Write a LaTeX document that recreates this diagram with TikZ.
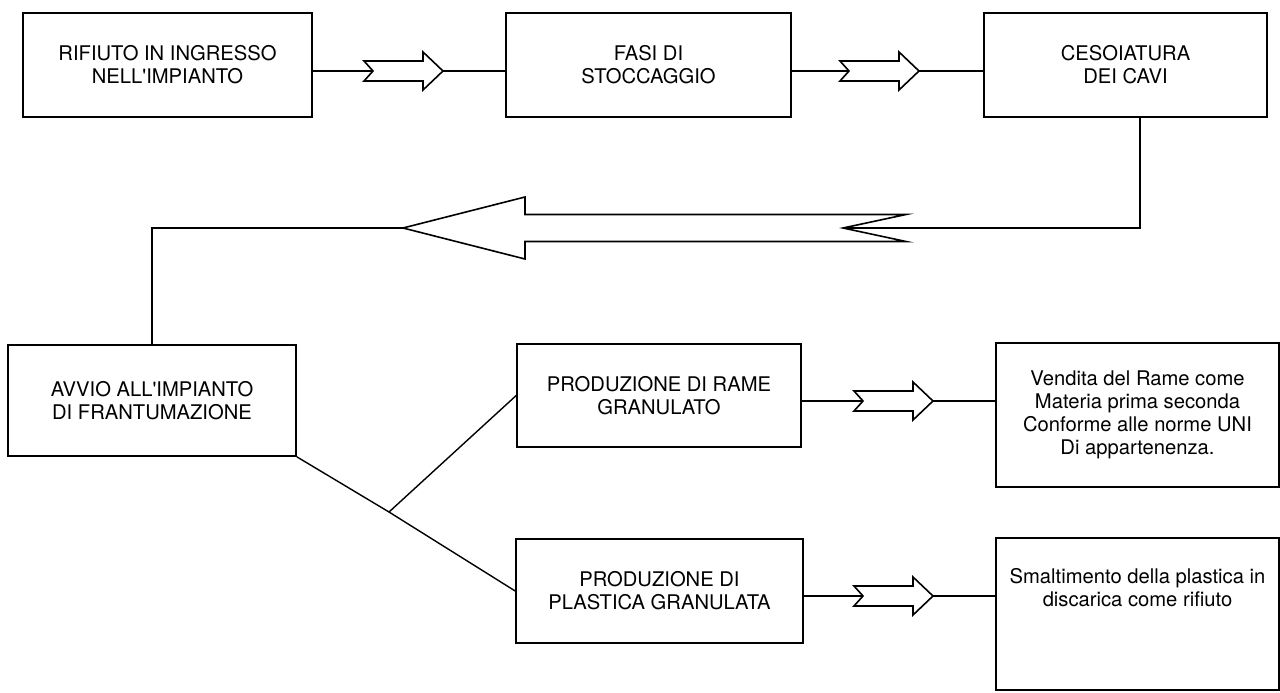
\documentclass[tikz,border=0pt]{standalone}
\usepackage{fontspec}
\setmainfont{TeX Gyre Heros}
\begin{document}
\begin{tikzpicture}[x=1pt,y=-1pt,
  box/.style={draw,line width=1.6pt,inner sep=0pt,align=center,font=\fontsize{20.2}{23}\selectfont},
  txt/.style={inner sep=0pt,align=center,font=\fontsize{20.2}{23}\selectfont},
  conn/.style={line width=1.4pt},
  fat/.style={draw,line width=1.6pt,fill=white,line join=miter},
  fatarrow/.pic={\draw[fat] (0,0) -- (-9,-10) -- (50,-10) -- (50,-19) -- (70,0) -- (50,19) -- (50,10) -- (-9,10) -- cycle;}]
\useasboundingbox (0,0) rectangle (1280,693);
% boxes
\node[box,minimum width=289pt,minimum height=104pt] (b1) at (167.5,65) {RIFIUTO IN INGRESSO\\NELL\textquotesingle IMPIANTO};
\node[box,minimum width=285pt,minimum height=104pt] (b2) at (648.5,65) {FASI DI\\STOCCAGGIO};
\node[box,minimum width=283pt,minimum height=104pt] (b3) at (1125.5,65) {CESOIATURA\\DEI CAVI};
\node[box,minimum width=288pt,minimum height=111pt] (b4) at (152,400.5) {AVVIO ALL\textquotesingle IMPIANTO\\DI FRANTUMAZIONE};
\node[box,minimum width=284pt,minimum height=103pt] (b5) at (659,395.5) {PRODUZIONE DI RAME\\GRANULATO};
\node[box,minimum width=287pt,minimum height=104pt] (b6) at (659.5,591) {PRODUZIONE DI\\PLASTICA GRANULATA};
\node[box,minimum width=283pt,minimum height=144pt] (b7) at (1137.5,415) {Vendita del Rame come\\Materia prima seconda\\Conforme alle norme UNI\\Di appartenenza.};
\node[box,minimum width=283pt,minimum height=152pt] (b8) at (1137.5,614) {};
\node[txt] (b8t) at (1137.5,588) {Smaltimento della plastica in\\discarica come rifiuto};
% top row arrows
\coordinate (a1) at (373,71);
\draw[conn] (b1.east |- a1) -- (a1);
\pic at (a1) {fatarrow};
\draw[conn] ([xshift=70pt]a1) -- (b2.west |- a1);
\coordinate (a2) at (849,71);
\draw[conn] (b2.east |- a2) -- (a2);
\pic at (a2) {fatarrow};
\draw[conn] ([xshift=70pt]a2) -- (b3.west |- a2);
% big return arrow
\coordinate (c3) at (1140,228);
\coordinate (bn) at (843,228);
\coordinate (bt) at (403,228);
\draw[conn] (b3.south -| c3) -- (c3) -- (bn);
\draw[fat,shift={(bn)}] (0,0) -- (63,-13.5) -- (-318,-13.5) -- (-318,-31) -- (-440,0) -- (-318,31) -- (-318,13.5) -- (63,13.5) -- cycle;
\draw[conn] (bt) -- (b4.north |- bt) -- (b4.north);
% branches
\coordinate (J) at (389,512);
\draw[conn] (b4.south east) -- (J) -- (b6.west);
\draw[conn] (J) -- (b5.west);
% lower arrows
\coordinate (a3) at (863,401);
\draw[conn] (b5.east |- a3) -- (a3);
\pic at (a3) {fatarrow};
\draw[conn] ([xshift=70pt]a3) -- (b7.west |- a3);
\coordinate (a4) at (863,596);
\draw[conn] (b6.east |- a4) -- (a4);
\pic at (a4) {fatarrow};
\draw[conn] ([xshift=70pt]a4) -- (b8.west |- a4);
\end{tikzpicture}
\end{document}
